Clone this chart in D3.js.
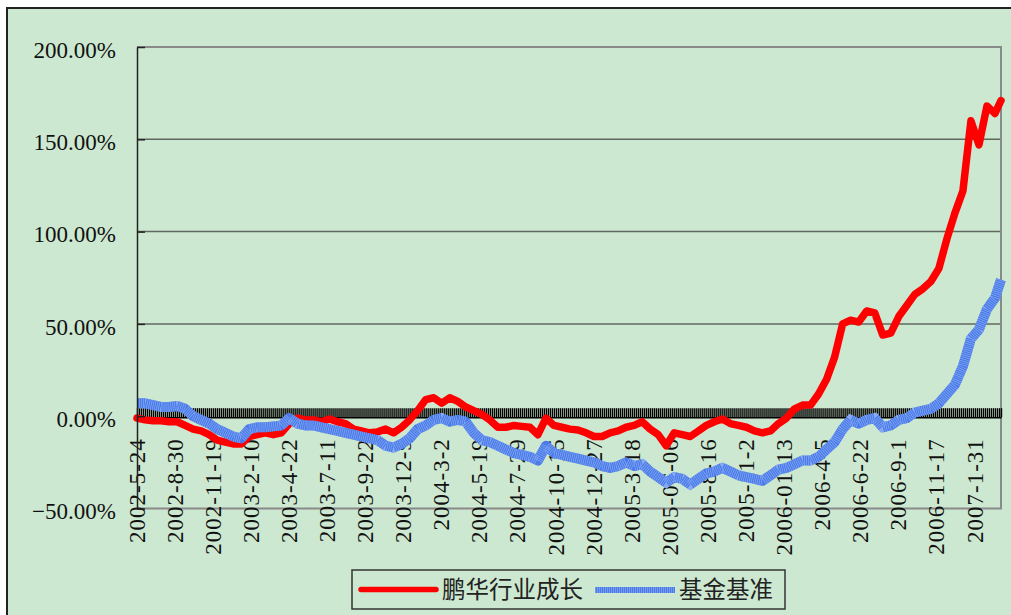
<!DOCTYPE html>
<html><head><meta charset="utf-8">
<script src="https://cdn.jsdelivr.net/npm/d3@7"></script>
<style>body{margin:0;background:#fff}</style>
</head><body><svg id="c" width="1011" height="615"></svg>
<script>
// ---- data ----
const dateLabels = ["2002-5-24","2002-8-30","2002-11-19","2003-2-10","2003-4-22","2003-7-11","2003-9-22","2003-12-9","2004-3-2","2004-5-19","2004-7-29","2004-10-15","2004-12-27","2005-3-18","2005-06-06","2005-8-16","2005-11-2","2006-01-13","2006-4-5","2006-6-22","2006-9-1","2006-11-17","2007-1-31"];
const labelStep = 19;      // points between date labels
const pointCount = 432;    // category positions on the axis
const sampleStep = 4;      // values below are read every 4 positions
const seriesNames = ["鹏华行业成长","基金基准"];
const yTicks = [-50,0,50,100,150,200];
const fundValues = [-1,-2,-2.5,-2.5,-3,-3,-5,-7,-8,-10,-13,-14,-15,-15,-11,-10,-9,-10,-9,-4,-1,-2,-2,-3,-1.5,-3,-4,-7,-8,-9,-8.5,-7,-9,-6,-2,3,9,10,7,10,8,5,3,1,-2,-6,-6,-5,-5.5,-6,-10,-1,-5,-6,-7,-7.5,-9,-11,-11,-9,-8,-6,-5,-3,-7,-10,-16,-9,-10,-11,-8,-5,-3,-1.5,-4,-5,-6,-8,-9,-8,-4,-1,4,6,6,12,20,32,50,52,51,57,56,44,45,54,60,66,69,73,80,96,110,122,160,147,168,164,171];
const benchValues = [7,7,6,5,5,5.5,4,0,-2,-4,-7,-9,-11,-12,-7,-6,-6,-5.5,-5,-1,-4,-5,-5,-6,-7,-8,-9,-10,-11,-12,-13,-16,-17,-15,-12,-7,-5,-2,-1,-3,-2,-3,-9,-13,-14,-16,-18,-20,-21,-22,-24,-16,-20,-21,-22,-23,-24,-25,-27,-28,-27,-25,-27,-26,-30,-33,-36,-33,-34,-37,-34,-31,-30,-28,-30,-32,-33,-34,-35,-32,-29,-28,-26,-24,-24,-22,-18,-14,-7,-2,-4,-2,-1,-6,-5,-2,-1,2,3,4,7,12,17,27,42,47,58,64,74];

// ---- layout ----
const svg = d3.select("#c");
const L = 137, R = 1001, T = 47, B = 508.5;
const serif = "'Liberation Serif','Times New Roman',serif";
const cjk = "'Noto Sans CJK SC','Noto Sans CJK JP',sans-serif";

svg.append("rect").attr("x",7).attr("y",8).attr("width",1020).attr("height",620)
  .attr("fill","#cde8d0").attr("stroke","#222").attr("stroke-width",2);

const x = d3.scaleLinear().domain([0, pointCount-1]).range([L, R]);
const y = d3.scaleLinear().domain([-50, 200]).range([B, T]);
const idx = k => Math.min(k*sampleStep, pointCount-1);

// gridlines
svg.append("g").selectAll("line").data(yTicks.filter(v => v > -50 && v < 200 && v !== 0)).join("line")
  .attr("x1", L).attr("x2", R).attr("y1", d => y(d)).attr("y2", d => y(d))
  .attr("stroke", "#5f685f").attr("stroke-width", 1.5);
// plot border (top, right, bottom)
svg.append("path").attr("d", `M${L},${y(200)}H${R}V${y(-50)}H${L}`)
  .attr("fill","none").attr("stroke","#8a8a8a").attr("stroke-width",2);

// category axis at zero with dense tick marks
const xAxisTicks = d3.axisTop(x).tickValues(d3.range(pointCount)).tickSizeInner(9).tickSizeOuter(0).tickFormat("");
const gx = svg.append("g").attr("transform", `translate(0,${y(0)+1})`).call(xAxisTicks);
gx.selectAll(".tick line").attr("stroke","#000").attr("stroke-width",1.4);
gx.select(".domain").attr("stroke","#000").attr("stroke-width",1.5);

// date labels
const labelAxis = d3.axisBottom(x).tickValues(d3.range(0, pointCount, labelStep))
  .tickSize(0).tickFormat((d,i) => dateLabels[i]);
const gl = svg.append("g").attr("transform", `translate(0,${y(0)})`).call(labelAxis);
gl.select(".domain").remove();
gl.selectAll("text")
  .attr("transform","translate(-1,22) rotate(-90)")
  .attr("x",0).attr("y",0).attr("dy","0.35em")
  .attr("text-anchor","end")
  .attr("font-family", serif).attr("font-size", 23).attr("letter-spacing","1px").attr("fill","#111");

// series
const line = d3.line().x((d,k) => x(idx(k))).y(d => y(d));
svg.append("path").datum(fundValues).attr("d", line)
  .attr("fill","none").attr("stroke","#ff0000").attr("stroke-width",7.5)
  .attr("stroke-linejoin","round").attr("stroke-linecap","round");
svg.append("path").datum(benchValues).attr("d", line)
  .attr("fill","none").attr("stroke","#4a7be9").attr("stroke-width",10)
  .attr("stroke-linejoin","round");
svg.append("path").datum(benchValues).attr("d", line)
  .attr("fill","none").attr("stroke","#86a9f3").attr("stroke-width",10)
  .attr("stroke-dasharray","0.7,1.3");

// value axis
const yAxis = d3.axisLeft(y).tickValues(yTicks).tickSizeInner(-8).tickSizeOuter(0).tickPadding(21)
  .tickFormat(d => d3.format(".2f")(d) + "%");
const gy = svg.append("g").attr("transform", `translate(${L},0)`).call(yAxis);
gy.select(".domain").attr("stroke","#222").attr("stroke-width",1.5);
gy.selectAll(".tick line").attr("stroke","#222").attr("stroke-width",1.5);
gy.selectAll("text").attr("font-family", serif).attr("font-size", 23).attr("fill","#111").attr("dy","0.45em");

// legend
const lg = svg.append("g");
lg.append("rect").attr("x",352).attr("y",570).attr("width",433).attr("height",39)
  .attr("fill","none").attr("stroke","#333").attr("stroke-width",1.5);
lg.append("line").attr("x1",361).attr("x2",436).attr("y1",589.5).attr("y2",589.5)
  .attr("stroke","#ff0000").attr("stroke-width",5.5).attr("stroke-linecap","round");
lg.append("text").attr("x",442).attr("y",590).attr("dy","0.36em").text(seriesNames[0])
  .attr("font-family", cjk).attr("font-size",23.5).attr("fill","#222");
lg.append("line").attr("x1",595).attr("x2",675).attr("y1",590).attr("y2",590)
  .attr("stroke","#4a7be9").attr("stroke-width",6);
lg.append("line").attr("x1",595).attr("x2",675).attr("y1",590).attr("y2",590)
  .attr("stroke","#86a9f3").attr("stroke-width",6).attr("stroke-dasharray","0.7,1.3");
lg.append("text").attr("x",679).attr("y",590).attr("dy","0.36em").text(seriesNames[1])
  .attr("font-family", cjk).attr("font-size",23.5).attr("fill","#222");
</script></body></html>
